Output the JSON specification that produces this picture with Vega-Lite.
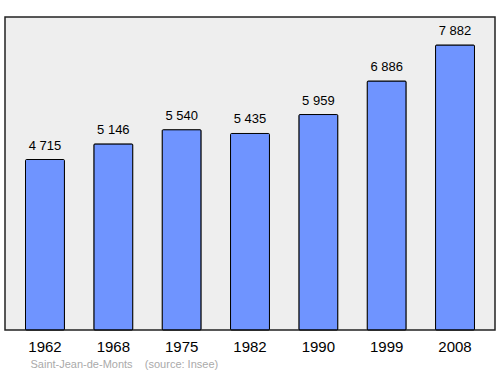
{
  "$schema": "https://vega.github.io/schema/vega-lite/v6.json",
  "width": 490,
  "height": 313,
  "autosize": {"type": "none"},
  "padding": {"left": 5, "top": 17, "right": 5, "bottom": 44},
  "background": "white",
  "config": {
    "font": "Liberation Sans",
    "view": {"fill": "#eeeeee", "stroke": "#222222", "strokeWidth": 1.5}
  },
  "data": {
    "values": [
      {"year": "1962", "pop": 4715, "label": "4 715"},
      {"year": "1968", "pop": 5146, "label": "5 146"},
      {"year": "1975", "pop": 5540, "label": "5 540"},
      {"year": "1982", "pop": 5435, "label": "5 435"},
      {"year": "1990", "pop": 5959, "label": "5 959"},
      {"year": "1999", "pop": 6886, "label": "6 886"},
      {"year": "2008", "pop": 7882, "label": "7 882"}
    ]
  },
  "encoding": {
    "x": {
      "field": "year",
      "type": "nominal",
      "scale": {"paddingInner": 0.43, "paddingOuter": 0.3},
      "axis": {
        "labelAngle": 0,
        "labelFontSize": 15,
        "labelColor": "#000000",
        "labelPadding": 9,
        "ticks": false,
        "domain": false,
        "title": "Saint-Jean-de-Monts\u00a0\u00a0\u00a0\u00a0(source: Insee)",
        "titleFontSize": 11,
        "titleFontWeight": "normal",
        "titleColor": "#aaaaaa",
        "titleAnchor": "start",
        "titleX": 25,
        "titlePadding": 4
      }
    },
    "y": {
      "field": "pop",
      "type": "quantitative",
      "scale": {"domain": [0, 8656], "nice": false},
      "axis": null
    }
  },
  "layer": [
    {
      "mark": {"type": "bar", "fill": "#6f94ff", "stroke": "#000000", "strokeWidth": 1, "cornerRadius": 1}
    },
    {
      "mark": {"type": "text", "baseline": "bottom", "dy": -7, "fontSize": 13, "color": "#000000"},
      "encoding": {"text": {"field": "label"}}
    }
  ]
}
